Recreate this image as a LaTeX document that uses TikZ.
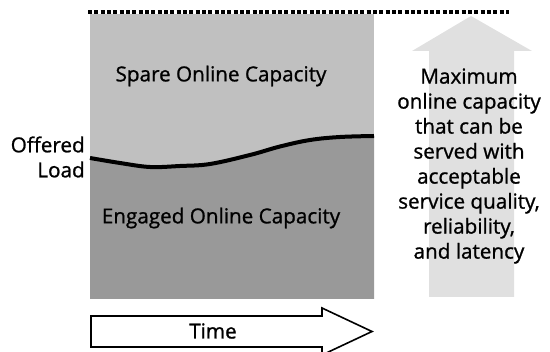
\documentclass[tikz,border=0pt]{standalone}
\usepackage{fontspec}
\setmainfont{Open Sans}[FakeBold=1]
\definecolor{spare}{RGB}{192,192,192}
\definecolor{engaged}{RGB}{153,153,153}
\definecolor{uparrow}{RGB}{224,224,224}
\begin{document}
\begin{tikzpicture}[x=0.75pt,y=-0.75pt,
  lbl/.style={font=\fontsize{15.5}{18.75}\selectfont, align=center, inner sep=0pt, text=black},
  loadline/.style={line width=3pt, line cap=butt},
  limitline/.style={line width=3pt, dash pattern=on 3pt off 1.75pt},
  timearrow/.style={draw=black, fill=white, line width=1.2pt, line join=miter}]
\useasboundingbox (0,0) rectangle (550,352);
% capacity areas
\fill[spare] (90,14.5) rectangle (374,299);
\fill[engaged] (90,299) -- plot[smooth, tension=0.6] coordinates {(90,158) (120,163) (150,167) (180,166) (210,164) (250,155) (280,146.5) (310,140) (340,137) (374,136)} -- (374,299) -- cycle;
\draw[loadline] plot[smooth, tension=0.6] coordinates {(90,158) (120,163) (150,167) (180,166) (210,164) (250,155) (280,146.5) (310,140) (340,137) (374,136)};
% maximum capacity line
\coordinate (maxL) at (88,12.3);
\coordinate (maxR) at (509,12.3);
\draw[limitline] (maxL) -- (maxR);
% up arrow
\fill[uparrow] (429,297) -- (429,51) -- (412,51) -- (471,16) -- (532,51) -- (514,51) -- (514,297) -- cycle;
% time arrow
\draw[timearrow] (91,316) -- (322,316) -- (322,308) -- (372,331.5) -- (322,355) -- (322,347) -- (91,347) -- cycle;
% labels
\node[lbl] (spare) at (221,76) {Spare Online Capacity};
\node[lbl] (engaged) at (221,218) {Engaged Online Capacity};
\node[lbl, align=right, anchor=east] (load) at (85,157) {Offered\\Load};
\node[lbl] (time) at (213,331) {Time};
\node[lbl] (max) at (469,166) {Maximum\\online capacity\\that can be\\served with\\acceptable\\service quality,\\reliability,\\and latency};
\end{tikzpicture}
\end{document}
